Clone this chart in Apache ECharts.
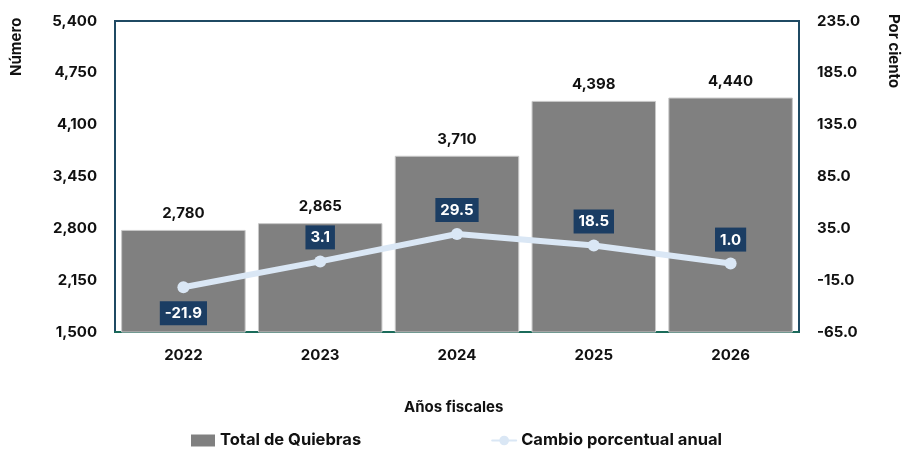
<!DOCTYPE html>
<html>
<head>
<meta charset="utf-8">
<script src="https://cdn.jsdelivr.net/npm/echarts@6/dist/echarts.min.js"></script>
<style>
  html, body { margin: 0; padding: 0; background: #fff; }
  #chart { width: 903px; height: 456px; }
</style>
</head>
<body>
<div id="chart"></div>
<script>
  // datos
  const years = ['2022', '2023', '2024', '2025', '2026']
  const totalQuiebras = [2780, 2865, 3710, 4398, 4440]
  const cambioPct = [-21.9, 3.1, 29.5, 18.5, 1.0]

  const font = 'Inter, "Open Sans", sans-serif'
  const mychart = echarts.init(document.getElementById('chart'))

  const options = {
    textStyle: { fontFamily: font },
    grid: {
      left: 115,
      right: 104,
      top: 21,
      bottom: 124,
      show: true,
      borderColor: '#1f4a63',
      borderWidth: 2
    },
    legend: {
      bottom: 2,
      left: 186,
      itemGap: 130,
      itemWidth: 24,
      itemHeight: 12,
      textStyle: { fontFamily: font, fontWeight: 'bold', fontSize: 16.5, color: '#111' },
      data: [
        { name: 'Total de Quiebras', icon: 'rect', itemStyle: { borderWidth: 0 } },
        { name: 'Cambio porcentual anual' }
      ]
    },
    graphic: [
      {
        type: 'text',
        left: 404, top: 400,
        style: { text: 'Años fiscales', font: 'bold 15px ' + font, fill: '#111' }
      },
      {
        type: 'text',
        x: 9, y: 76, rotation: Math.PI / 2,
        style: { text: 'Número', font: 'bold 15px ' + font, fill: '#111' }
      },
      {
        type: 'text',
        x: 901, y: 14, rotation: -Math.PI / 2,
        style: { text: 'Por ciento', font: 'bold 15px ' + font, fill: '#111' }
      }
    ],
    xAxis: {
      type: 'category',
      data: years,
      axisTick: { show: false },
      axisLine: { show: true, onZero: false, lineStyle: { color: '#1b6b5a', width: 2 } },
      axisLabel: { fontFamily: font, fontWeight: 'bold', fontSize: 15, color: '#111', margin: 16 }
    },
    yAxis: [
      {
        type: 'value',
        min: 1500,
        max: 5400,
        interval: 650,
        splitLine: { show: false },
        axisLine: { show: false },
        axisLabel: {
          fontFamily: font, fontWeight: 'bold', fontSize: 15, color: '#111', margin: 18,
          formatter: v => v.toLocaleString('en-US')
        }
      },
      {
        type: 'value',
        min: -65,
        max: 235,
        interval: 50,
        position: 'right',
        splitLine: { show: false },
        axisLine: { show: false },
        axisLabel: {
          fontFamily: font, fontWeight: 'bold', fontSize: 15, color: '#111', margin: 18,
          formatter: v => v.toFixed(1)
        }
      }
    ],
    series: [
      {
        type: 'bar',
        name: 'Total de Quiebras',
        barWidth: '91%',
        itemStyle: { color: '#808080', borderColor: '#c8c8c8', borderWidth: 1 },
        label: {
          show: true,
          position: 'top',
          distance: 9,
          fontFamily: font,
          fontWeight: 'bold',
          fontSize: 15,
          color: '#111',
          formatter: p => p.value.toLocaleString('en-US')
        },
        data: totalQuiebras
      },
      {
        type: 'line',
        name: 'Cambio porcentual anual',
        yAxisIndex: 1,
        symbol: 'circle',
        symbolSize: 12,
        itemStyle: { color: '#dae7f5' },
        lineStyle: { color: '#dae7f5', width: 6, cap: 'round' },
        label: {
          show: true,
          position: 'top',
          distance: 6,
          backgroundColor: '#1b3d63',
          padding: [5, 5, 4, 5],
          fontFamily: font,
          fontWeight: 'bold',
          fontSize: 15,
          color: '#fff',
          formatter: p => p.value.toFixed(1)
        },
        data: cambioPct.map(v => v < 0
          ? { value: v, label: { position: 'bottom', distance: 8 } }
          : v)
      }
    ]
  }
  mychart.setOption(options)
</script>
</body>
</html>
